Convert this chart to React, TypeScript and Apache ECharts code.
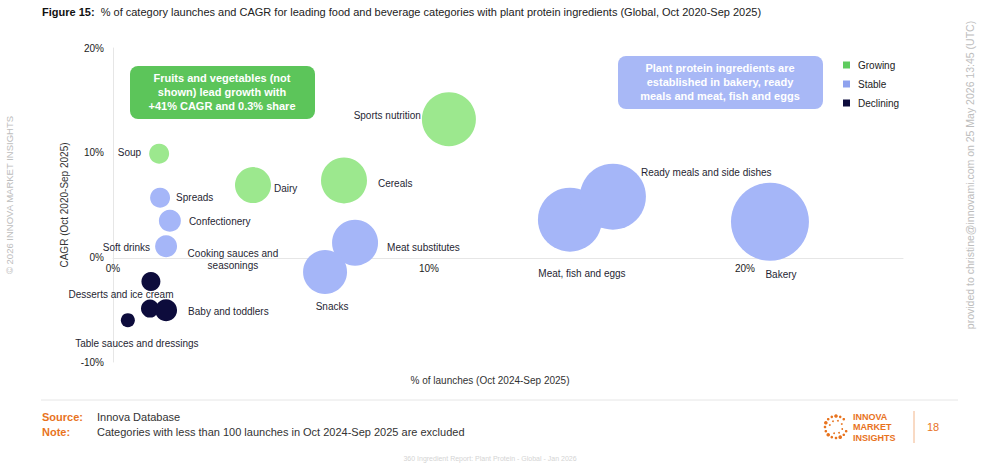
import React, { useEffect, useRef } from 'react';
import * as echarts from 'echarts';

// Categories and their values
const categories = [
  'Soup', 'Dairy', 'Cereals', 'Sports nutrition',
  'Spreads', 'Confectionery', 'Soft drinks', 'Meat substitutes', 'Snacks',
  'Meat, fish and eggs', 'Ready meals and side dishes', 'Bakery',
  'Cooking sauces and\nseasonings', 'Desserts and ice cream', 'Baby and toddlers',
  'Table sauces and dressings'
];
// % of launches (Oct 2024-Sep 2025)
const launchShare = [1.46, 4.43, 7.31, 10.63, 1.49, 1.8, 1.68, 7.66, 6.71, 14.46, 15.82, 20.79, 1.2, 1.17, 1.68, 0.47];
// CAGR (Oct 2020-Sep 2025)
const cagr = [9.9, 6.9, 7.35, 13.2, 5.7, 3.5, 1.05, 1.4, -1.4, 3.6, 5.8, 3.4, -2.3, -4.9, -5.05, -6.0];
// relative bubble magnitude
const bubbleSize = [20, 36, 46, 54, 20, 22, 22, 46, 44, 64, 66, 78, 19, 18, 22, 14];
const trend = [
  'Growing', 'Growing', 'Growing', 'Growing',
  'Stable', 'Stable', 'Stable', 'Stable', 'Stable', 'Stable', 'Stable', 'Stable',
  'Declining', 'Declining', 'Declining', 'Declining'
];
const trendGroups = ['Growing', 'Stable', 'Declining'];
const xTicks = [0, 10, 20];

// label placement: [dx, dy, align]
const labelPlace: Record<string, [number, number, string]> = {
  'Soup': [-18, -1, 'right'],
  'Dairy': [21, 3, 'left'],
  'Cereals': [34, 3, 'left'],
  'Sports nutrition': [-28, -4, 'right'],
  'Spreads': [16, 0, 'left'],
  'Confectionery': [19, 1, 'left'],
  'Soft drinks': [-16, 1, 'right'],
  'Meat substitutes': [32, 5, 'left'],
  'Snacks': [7, 35, 'center'],
  'Meat, fish and eggs': [12, 54, 'center'],
  'Ready meals and side dishes': [28, -24, 'left'],
  'Bakery': [11, 53, 'center'],
  'Cooking sauces and\nseasonings': [82, -22, 'center'],
  'Desserts and ice cream': [-29, -14, 'center'],
  'Baby and toddlers': [22, 1, 'left'],
  'Table sauces and dressings': [9, 23, 'center']
};

const bubbleColors: Record<string, string> = {
  Growing: '#9ce88e',
  Stable: '#a5b6f8',
  Declining: '#0d0c3c'
};
const legendColors: Record<string, string> = {
  Growing: '#5fcc5f',
  Stable: '#8fa2ee',
  Declining: '#0d0c3c'
};

const ORANGE = '#e8731e';
const LABEL = '#1f1f33';

const logoDots = () => {
  const dots: any[] = [];
  const n = 16;
  for (let i = 0; i < n; i++) {
    const a = (i / n) * Math.PI * 2;
    if (i === 0 || i === 15) continue;
    dots.push({
      type: 'circle',
      shape: { cx: 836 + Math.cos(a) * 11, cy: 427 + Math.sin(a) * 11, r: i % 3 === 0 ? 1.8 : 1.3 },
      style: { fill: ORANGE }
    });
  }
  for (let i = 0; i < 8; i++) {
    const a = (i / 8) * Math.PI * 2 + 0.3;
    dots.push({
      type: 'circle',
      shape: { cx: 836 + Math.cos(a) * 6.5, cy: 427 + Math.sin(a) * 6.5, r: 0.9 },
      style: { fill: ORANGE }
    });
  }
  return dots;
};

const App: React.FC = () => {
  const chartRef = useRef<HTMLDivElement>(null);

  useEffect(() => {
    if (!chartRef.current) return;
    const chart = echarts.init(chartRef.current, undefined, { renderer: 'svg' });

    const series = trendGroups.map((group) => ({
      name: group,
      type: 'scatter',
      symbolSize: (v: number[]) => v[2],
      itemStyle: { color: bubbleColors[group], opacity: 1 },
      emphasis: { disabled: true },
      data: categories
        .map((name, i) => ({ name, i }))
        .filter(({ i }) => trend[i] === group)
        .map(({ name, i }) => {
          const [dx, dy, align] = labelPlace[name];
          return {
            name,
            value: [launchShare[i], cagr[i], bubbleSize[i]],
            label: {
              show: true,
              position: 'inside',
              formatter: '{b}',
              align,
              verticalAlign: 'middle',
              offset: [dx, dy],
              color: LABEL,
              fontSize: 10,
              lineHeight: 12,
              fontFamily: 'Liberation Sans, Arial, sans-serif'
            }
          };
        })
    }));

    const option = {
      animation: false,
      backgroundColor: '#ffffff',
      textStyle: { fontFamily: 'Liberation Sans, Arial, sans-serif' },
      grid: { left: 113, right: 79, top: 48, bottom: 101 },
      legend: {
        orient: 'vertical',
        left: 838,
        top: 54,
        icon: 'rect',
        itemWidth: 7,
        itemHeight: 7,
        itemGap: 7,
        selectedMode: false,
        textStyle: { fontSize: 10, color: '#222', padding: [0, 0, 0, 3], lineHeight: 12 },
        data: trendGroups.map((g) => ({ name: g, itemStyle: { color: legendColors[g] } }))
      },
      xAxis: {
        type: 'value',
        min: 0,
        max: 25,
        interval: 10,
        offset: -104,
        axisLine: { show: true, onZero: false, lineStyle: { color: '#e6e6e6', width: 1 } },
        axisTick: { show: false },
        splitLine: { show: false },
        axisLabel: {
          color: '#222',
          fontSize: 10,
          margin: 5,
          showMaxLabel: false,
          formatter: (v: number) => (xTicks.includes(v) ? `${v}%` : '')
        }
      },
      yAxis: {
        type: 'value',
        min: -10,
        max: 20,
        interval: 10,
        name: 'CAGR (Oct 2020-Sep 2025)',
        nameLocation: 'middle',
        nameGap: 44,
        nameTextStyle: { fontSize: 10, color: '#333' },
        axisLine: { show: true, lineStyle: { color: '#e6e6e6', width: 1 } },
        axisTick: { show: false },
        splitLine: { show: false },
        axisLabel: { color: '#222', fontSize: 10, margin: 9, formatter: '{value}%' }
      },
      graphic: [
        {
          type: 'text',
          left: 42,
          top: 6,
          style: {
            text: '{b|Figure 15:}  % of category launches and CAGR for leading food and beverage categories with plant protein ingredients (Global, Oct 2020-Sep 2025)',
            fontSize: 11,
            fill: '#222',
            rich: { b: { fontWeight: 'bold', fontSize: 11, fill: '#111' } }
          }
        },
        {
          type: 'rect',
          shape: { x: 130, y: 66, width: 185, height: 53, r: 8 },
          style: { fill: '#5cc55a' }
        },
        {
          type: 'text',
          x: 222,
          y: 92,
          style: {
            text: 'Fruits and vegetables (not\nshown) lead growth with\n+41% CAGR and 0.3% share',
            fill: '#fff',
            fontSize: 11,
            fontWeight: 'bold',
            lineHeight: 14,
            align: 'center',
            verticalAlign: 'middle'
          }
        },
        {
          type: 'rect',
          shape: { x: 618, y: 56, width: 205, height: 53, r: 8 },
          style: { fill: '#a8b8f6' }
        },
        {
          type: 'text',
          x: 720,
          y: 82,
          style: {
            text: 'Plant protein ingredients are\nestablished in bakery, ready\nmeals and meat, fish and eggs',
            fill: '#fff',
            fontSize: 11,
            fontWeight: 'bold',
            lineHeight: 14,
            align: 'center',
            verticalAlign: 'middle'
          }
        },
        {
          type: 'text',
          x: 490,
          y: 380,
          style: {
            text: '% of launches (Oct 2024-Sep 2025)',
            fill: '#333',
            fontSize: 10,
            align: 'center',
            verticalAlign: 'middle'
          }
        },
        {
          type: 'text',
          x: 9,
          y: 195,
          rotation: Math.PI / 2,
          style: {
            text: '© 2026 INNOVA MARKET INSIGHTS',
            fill: '#bdbdbd',
            fontSize: 9.5,
            align: 'center',
            verticalAlign: 'middle'
          }
        },
        {
          type: 'text',
          x: 970,
          y: 175,
          rotation: Math.PI / 2,
          style: {
            text: 'provided to christine@innovami.com on 25 May 2026 13:45 (UTC)',
            fill: '#bdbdbd',
            fontSize: 10.5,
            align: 'center',
            verticalAlign: 'middle'
          }
        },
        {
          type: 'line',
          shape: { x1: 41, y1: 400, x2: 958, y2: 400 },
          style: { stroke: '#e6e6e6', lineWidth: 1 }
        },
        {
          type: 'text',
          x: 42,
          y: 417,
          style: { text: 'Source:', fill: ORANGE, fontSize: 11, fontWeight: 'bold', verticalAlign: 'middle' }
        },
        {
          type: 'text',
          x: 97,
          y: 417,
          style: { text: 'Innova Database', fill: '#333', fontSize: 11, verticalAlign: 'middle' }
        },
        {
          type: 'text',
          x: 42,
          y: 432,
          style: { text: 'Note:', fill: ORANGE, fontSize: 11, fontWeight: 'bold', verticalAlign: 'middle' }
        },
        {
          type: 'text',
          x: 97,
          y: 432,
          style: {
            text: 'Categories with less than 100 launches in Oct 2024-Sep 2025 are excluded',
            fill: '#333',
            fontSize: 11,
            verticalAlign: 'middle'
          }
        },
        ...logoDots(),
        {
          type: 'text',
          x: 853,
          y: 427,
          style: {
            text: 'INNOVA\nMARKET\nINSIGHTS',
            fill: ORANGE,
            fontSize: 9,
            fontWeight: 'bold',
            lineHeight: 10.5,
            verticalAlign: 'middle'
          }
        },
        {
          type: 'line',
          shape: { x1: 914, y1: 411, x2: 914, y2: 443 },
          style: { stroke: '#f2b58a', lineWidth: 1 }
        },
        {
          type: 'text',
          x: 933,
          y: 427,
          style: { text: '18', fill: ORANGE, fontSize: 11, align: 'center', verticalAlign: 'middle' }
        },
        {
          type: 'text',
          x: 490,
          y: 458,
          style: {
            text: '360 Ingredient Report: Plant Protein - Global - Jan 2026',
            fill: '#d4d4d4',
            fontSize: 7,
            align: 'center',
            verticalAlign: 'middle'
          }
        }
      ],
      series
    };

    chart.setOption(option as any);

    return () => {
      chart.dispose();
    };
  }, []);

  return (
    <div
      ref={chartRef}
      style={{ position: 'fixed', left: 0, top: 0, width: 982, height: 463, background: '#fff' }}
    />
  );
};

export default App;
